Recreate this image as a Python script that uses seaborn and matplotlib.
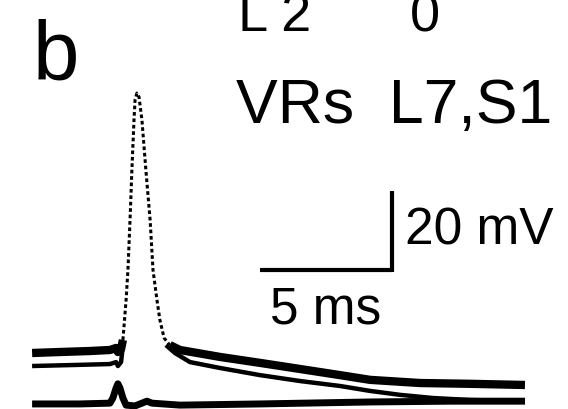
import matplotlib
matplotlib.use("Agg")
import matplotlib.pyplot as plt
import seaborn as sns

sns.set_theme(style="white")
plt.rcParams['font.family'] = ['Liberation Sans', 'DejaVu Sans']
plt.rcParams['text.color'] = 'black'

# ---- data (time in ms, membrane potential in mV relative to top baseline) ----
top_t = [0.08, 1.14, 2.27, 3.03, 3.26, 3.33, 3.45, 3.52]
top_v = [0.0, 0.25, 0.5, 0.76, 1.27, 0.25, 1.0, 3.3]

spike_t = [3.52, 3.64, 3.71, 3.79, 3.86, 3.94, 3.98, 4.05, 4.13, 4.24, 4.39, 4.55, 4.66, 4.81, 4.92, 5.08, 5.30]
spike_v = [3.3, 13.4, 21.0, 33.7, 46.3, 59.0, 64.1, 65.8, 64.8, 59.0, 46.3, 33.7, 21.0, 13.4, 8.4, 3.8, 2.0]

decay_t = [5.30, 5.68, 7.20, 8.71, 10.23, 11.74, 12.88, 14.77, 16.67, 18.75]
decay_v = [2.0, 0.76, -1.0, -2.5, -4.05, -5.6, -6.8, -7.6, -7.8, -8.1]

second_t = [0.08, 1.89, 3.03, 3.26, 3.33, 3.45, 3.52]
second_v = [-3.3, -3.0, -2.8, -2.3, -3.3, -2.3, 2.0]

second_decay_t = [5.15, 5.49, 6.06, 7.20, 8.71, 10.23, 11.74, 12.88, 14.02, 15.27, 16.67, 18.75]
second_decay_v = [2.0, 0.0, -2.3, -3.8, -5.6, -7.1, -8.35, -9.6, -10.6, -11.4, -11.9, -12.2]

bottom_t = [0.08, 1.89, 3.03, 3.14, 3.26, 3.33, 3.41, 3.52, 3.64, 3.98, 4.24, 4.43, 4.62, 5.68, 8.71, 12.88, 15.91, 18.75]
bottom_v = [-12.9, -12.9, -12.7, -11.4, -8.9, -7.8, -8.9, -11.4, -13.2, -13.4, -12.7, -12.2, -12.7, -13.2, -12.9, -12.4, -12.2, -12.2]

scale_ms = 5
scale_mv = 20
scale_origin_t = 13.71
scale_origin_v = 21.0

fig = plt.figure(figsize=(5.68, 4.09), dpi=100)
ax = fig.add_axes([0, 0, 1, 1])

def draw(t, v, lw):
    sns.lineplot(x=t, y=v, ax=ax, color="black", lw=lw, sort=False,
                 estimator=None, solid_capstyle="butt")

draw(top_t, top_v, 6.0)
draw(decay_t, decay_v, 6.0)
draw(second_t, second_v, 3.2)
draw(second_decay_t, second_decay_v, 3.2)
draw(bottom_t, bottom_v, 5.0)
sns.lineplot(x=spike_t, y=spike_v, ax=ax, color="black", lw=2.2, sort=False,
             estimator=None, linestyle=(0, (1.2, 0.9)))

# scale bars
ax.plot([scale_origin_t - scale_ms, scale_origin_t], [scale_origin_v, scale_origin_v],
        color="black", lw=3, solid_capstyle="butt")
ax.plot([scale_origin_t, scale_origin_t], [scale_origin_v - 0.5, scale_origin_v + scale_mv],
        color="black", lw=3, solid_capstyle="butt")
ax.text(scale_origin_t + 0.5, scale_origin_v + scale_mv / 2, "20 mV", fontsize=37,
        va="center", ha="left", color="black")
ax.text(scale_origin_t - scale_ms / 2, scale_origin_v - 4, "5 ms", fontsize=37,
        va="top", ha="center", color="black")

ax.set_xlim(-1.136, 20.38)
ax.set_ylim(-14.18, 89.37)
ax.axis("off")

fig.text(33 / 568, 1 - 80 / 409, "b", fontsize=60, ha="left", va="baseline", color="black")
fig.text(236 / 568, 1 - 123 / 409, "VRs  L7,S1", fontsize=45, ha="left", va="baseline", color="black")
fig.text(238 / 568, 1 - 31 / 409, "L 2", fontsize=39, ha="left", va="baseline", color="black")
fig.text(410 / 568, 1 - 31 / 409, "0", fontsize=39, ha="left", va="baseline", color="black")

fig.savefig("out.png", dpi=100)
